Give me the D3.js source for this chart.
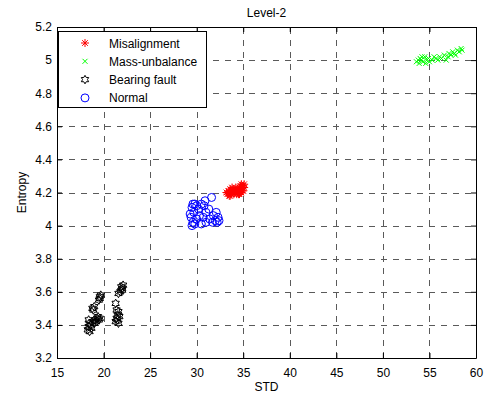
<!DOCTYPE html>
<html>
<head>
<meta charset="utf-8">
<script src="https://cdn.jsdelivr.net/npm/d3@7"></script>
<style>
  html, body { margin: 0; padding: 0; background: #fff; }
  svg { display: block; font-family: "Liberation Sans", Arial, Helvetica, sans-serif; }
</style>
</head>
<body>
<svg id="chart" width="489" height="397"></svg>
<script>
// ---------------- data ----------------
const title = "Level-2";
const xLabel = "STD";
const yLabel = "Entropy";
const seriesNames = ["Misalignment", "Mass-unbalance", "Bearing fault", "Normal"];

const xTicks = [15, 20, 25, 30, 35, 40, 45, 50, 55, 60];
const yTicks = [3.2, 3.4, 3.6, 3.8, 4, 4.2, 4.4, 4.6, 4.8, 5, 5.2];

const misX = [33.2,33.3,33.4,33.5,33.5,33.6,33.7,33.8,33.8,33.9,34.0,34.0,34.1,34.2,34.2,34.3,34.4,34.4,34.5,34.6,34.6,34.7,34.7,34.8,34.8,34.9,34.9,35.0,35.0,35.1,33.6,33.9,34.3,34.5,34.8,35.1];
const misY = [4.20,4.19,4.21,4.18,4.20,4.22,4.19,4.20,4.23,4.21,4.19,4.22,4.20,4.21,4.23,4.19,4.20,4.22,4.21,4.23,4.19,4.20,4.24,4.22,4.25,4.21,4.23,4.24,4.21,4.23,4.18,4.22,4.21,4.19,4.20,4.25];

const massX = [53.6,53.8,53.9,54.0,54.1,54.3,54.5,54.6,54.7,54.9,55.0,55.3,55.5,55.7,55.9,56.1,56.3,56.6,56.8,57.0,57.1,57.3,57.5,57.7,57.8,58.0,58.2,58.4,58.5,54.2];
const massY = [4.99,5.00,4.98,5.01,5.00,4.99,5.02,4.98,5.00,5.01,4.99,5.00,5.02,5.01,5.00,5.02,5.01,5.03,5.00,5.02,5.04,5.03,5.05,5.04,5.03,5.06,5.05,5.07,5.06,5.02];

const bearX = [18.3,18.4,18.5,18.4,18.6,18.7,18.5,18.8,19.0,19.1,19.3,19.2,19.5,19.6,19.4,18.9,19.0,18.8,19.5,19.6,19.7,19.6,21.3,21.4,21.5,21.6,21.4,21.7,21.5,21.6,21.3,21.6,21.8,22.0,21.9,22.1,22.0];
const bearY = [3.37,3.39,3.41,3.43,3.40,3.38,3.36,3.42,3.41,3.43,3.44,3.42,3.43,3.44,3.45,3.49,3.51,3.50,3.55,3.57,3.58,3.56,3.42,3.44,3.46,3.48,3.49,3.45,3.43,3.41,3.53,3.59,3.60,3.62,3.63,3.64,3.61];

const normX = [29.5,29.6,29.4,29.7,29.5,29.8,30.0,30.2,30.5,30.8,30.3,30.0,29.8,30.7,31.0,31.3,31.6,31.4,31.8,32.0,32.2,32.4,32.1,31.0,30.5,29.6,30.9,29.3,32.3,31.7];
const normY = [4.00,4.02,4.05,4.08,4.11,4.13,4.12,4.10,4.13,4.12,4.06,4.04,4.01,4.05,4.08,4.10,4.17,4.04,4.06,4.03,4.02,4.03,4.08,4.02,4.01,4.13,4.15,4.07,4.05,4.02];

// ---------------- layout ----------------
const svg = d3.select("#chart");
const L = 57, R = 476, T = 27, B = 358;

const x = d3.scaleLinear().domain([15, 60]).range([L, R]);
const y = d3.scaleLinear().domain([3.2, 5.2]).range([B, T]);

// custom MATLAB-like markers
const asteriskType = { draw(ctx, size) { const r = Math.sqrt(size) / 2; const d = r * 0.7071;
  ctx.moveTo(-r, 0); ctx.lineTo(r, 0); ctx.moveTo(0, -r); ctx.lineTo(0, r);
  ctx.moveTo(-d, -d); ctx.lineTo(d, d); ctx.moveTo(-d, d); ctx.lineTo(d, -d); } };
const timesType = { draw(ctx, size) { const r = Math.sqrt(size) / 2;
  ctx.moveTo(-r, -r); ctx.lineTo(r, r); ctx.moveTo(-r, r); ctx.lineTo(r, -r); } };
const hexagramType = { draw(ctx, size) { const R0 = Math.sqrt(size) / 2, r0 = R0 / Math.sqrt(3);
  for (let i = 0; i < 12; i++) { const a = -Math.PI / 2 + i * Math.PI / 6; const rr = i % 2 ? r0 : R0;
    const px = rr * Math.cos(a), py = rr * Math.sin(a);
    if (i === 0) ctx.moveTo(px, py); else ctx.lineTo(px, py); } ctx.closePath(); } };
const circleType = { draw(ctx, size) { const r = Math.sqrt(size) / 2; ctx.moveTo(r, 0); ctx.arc(0, 0, r, 0, 2 * Math.PI); } };

const series = [
  { name: seriesNames[0], xs: misX, ys: misY, type: asteriskType, size: 64, color: "#ff0000" },
  { name: seriesNames[1], xs: massX, ys: massY, type: timesType, size: 25, color: "#00ff00" },
  { name: seriesNames[2], xs: bearX, ys: bearY, type: hexagramType, size: 72, color: "#000000" },
  { name: seriesNames[3], xs: normX, ys: normY, type: circleType, size: 64, color: "#0000ff" }
];

// background
svg.append("rect").attr("x", 0).attr("y", 0).attr("width", 489).attr("height", 397).attr("fill", "#fff");

// grid
const grid = svg.append("g").attr("stroke", "#5a5a5a").attr("stroke-width", 1).attr("stroke-dasharray", "6,6");
grid.selectAll("line.gx").data(xTicks.slice(1, -1)).join("line")
  .attr("x1", d => Math.round(x(d)) + 0.5).attr("x2", d => Math.round(x(d)) + 0.5)
  .attr("y1", B).attr("y2", T);
grid.selectAll("line.gy").data(yTicks.slice(1, -1)).join("line")
  .attr("y1", d => Math.round(y(d)) + 0.5).attr("y2", d => Math.round(y(d)) + 0.5)
  .attr("x1", L).attr("x2", R);

// axes
const fmtY = d => d3.format("")(+d.toFixed(1));
const axB = svg.append("g").attr("transform", `translate(0,${B})`)
  .call(d3.axisBottom(x).tickValues(xTicks).tickSizeInner(-5).tickSizeOuter(0).tickPadding(10));
const axT = svg.append("g").attr("transform", `translate(0,${T})`)
  .call(d3.axisTop(x).tickValues(xTicks).tickSizeInner(-5).tickSizeOuter(0).tickFormat(""));
const axL = svg.append("g").attr("transform", `translate(${L},0)`)
  .call(d3.axisLeft(y).tickValues(yTicks).tickSizeInner(-5).tickSizeOuter(0).tickPadding(9).tickFormat(fmtY));
const axR = svg.append("g").attr("transform", `translate(${R},0)`)
  .call(d3.axisRight(y).tickValues(yTicks).tickSizeInner(-5).tickSizeOuter(0).tickFormat(""));
[axB, axT, axL, axR].forEach(g => {
  g.selectAll("path.domain").attr("stroke", "#000").attr("stroke-width", 1);
  g.selectAll(".tick line").attr("stroke", "#000");
  g.selectAll("text").attr("font-size", 12).attr("fill", "#000").attr("font-family", "Liberation Sans, Arial, sans-serif");
});
axL.selectAll("text").attr("dx", 4);

// points
const pts = svg.append("g");
series.forEach(s => {
  const sym = d3.symbol().type(s.type).size(s.size);
  pts.append("g").selectAll("path").data(s.xs.map((v, i) => [v, s.ys[i]])).join("path")
    .attr("transform", d => `translate(${x(d[0])},${y(d[1])})`)
    .attr("d", sym)
    .attr("fill", "none").attr("stroke", s.color).attr("stroke-width", 1);
});

// title and labels
svg.append("text").attr("x", (L + R) / 2).attr("y", 17).attr("text-anchor", "middle")
  .attr("font-size", 12).text(title);
svg.append("text").attr("x", (L + R) / 2).attr("y", 391).attr("text-anchor", "middle")
  .attr("font-size", 12).text(xLabel);
svg.append("text").attr("transform", `translate(26,${(T + B) / 2}) rotate(-90)`).attr("text-anchor", "middle")
  .attr("font-size", 12).text(yLabel);

// legend
const lg = svg.append("g");
lg.append("rect").attr("x", 58.5).attr("y", 31.5).attr("width", 148).attr("height", 76)
  .attr("fill", "#fff").attr("stroke", "#000").attr("stroke-width", 1);
series.forEach((s, i) => {
  const yy = 43 + i * 18.3;
  lg.append("path").attr("transform", `translate(85,${yy})`)
    .attr("d", d3.symbol().type(s.type).size(s.size)())
    .attr("fill", "none").attr("stroke", s.color).attr("stroke-width", 1);
  lg.append("text").attr("x", 109).attr("y", yy + 4.5).attr("font-size", 12).text(s.name);
});
</script>
</body>
</html>
